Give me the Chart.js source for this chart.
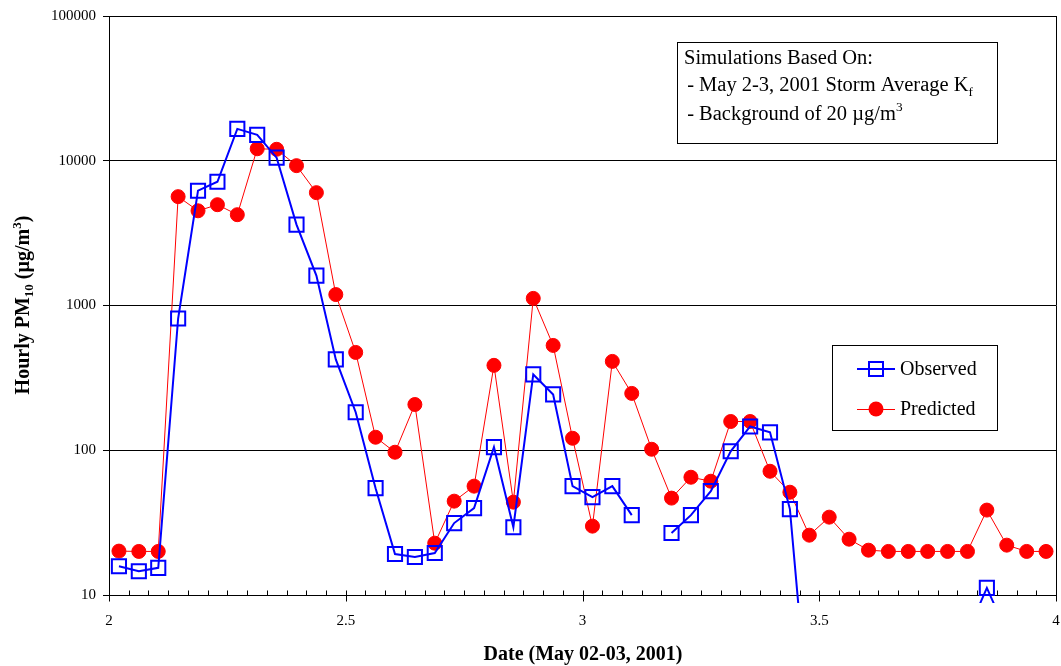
<!DOCTYPE html>
<html>
<head>
<meta charset="utf-8">
<script src="https://cdn.jsdelivr.net/npm/chart.js@4.4.0/dist/chart.umd.min.js"></script>
<style>
html, body { margin: 0; padding: 0; background: #fff; }
</style>
</head>
<body>
<canvas id="pmChart" width="1061" height="666"></canvas>
<script>
// hourly mid-points, May 2 (2.x) to May 3 (3.x)
const dates = [2.021, 2.063, 2.104, 2.146, 2.188, 2.229, 2.271, 2.313, 2.354, 2.396, 2.438, 2.479,
               2.521, 2.563, 2.604, 2.646, 2.688, 2.729, 2.771, 2.813, 2.854, 2.896, 2.938, 2.979,
               3.021, 3.063, 3.104, 3.146, 3.188, 3.229, 3.271, 3.313, 3.354, 3.396, 3.438, 3.479,
               3.521, 3.563, 3.604, 3.646, 3.688, 3.729, 3.771, 3.813, 3.854, 3.896, 3.938, 3.979];

const observed = [15.8, 14.6, 15.4, 813, 6210, 7160, 16600, 15100, 10500, 3620, 1610, 424,
                  183, 54.7, 19.2, 18.3, 19.5, 31.4, 39.8, 105, 29.4, 334, 243, 56.5,
                  47.4, 56.5, 35.6, null, 26.8, 35.6, 52.2, 98.4, 146, 133, 39.2, 1.2,
                  null, null, null, null, null, null, null, 5.5, 11.2, 5.5, null, null];

const predicted = [20.1, 20, 20, 5650, 4510, 4970, 4240, 12100, 12000, 9250, 6020, 1190,
                   474, 123, 96.9, 207, 22.8, 44.5, 56.5, 386, 43.8, 1120, 530, 121,
                   29.9, 411, 247, 101.6, 46.7, 65.1, 61.1, 158, 158, 71.6, 51.3, 25.9,
                   34.5, 24.3, 20.4, 20, 20, 20, 20, 20, 38.6, 22.1, 20, 20];

const yTicks = [10, 100, 1000, 10000, 100000];
const xLabels = [2, 2.5, 3, 3.5, 4];
const seriesNames = ['Observed', 'Predicted'];

const FONT = "'Liberation Serif', 'Times New Roman', serif";
const BLUE = '#0000ff';
const RED = '#ff0000';

function toPoints(vals) {
    return dates.map((d, i) => ({x: d, y: vals[i]}));
}

// draw text made of normal / sub / sup pieces
function richWidth(ctx, parts, size, bold) {
    let w = 0;
    parts.forEach(p => {
        const s = p[1] ? size * 0.65 : size;
        ctx.font = (bold ? 'bold ' : '') + s + 'px ' + FONT;
        w += ctx.measureText(p[0]).width;
    });
    return w;
}
function drawRich(ctx, parts, x, y, size, bold) {
    parts.forEach(p => {
        const s = p[1] ? size * 0.65 : size;
        ctx.font = (bold ? 'bold ' : '') + s + 'px ' + FONT;
        let dy = 0;
        if (p[1] === 'sub') dy = size * 0.22;
        if (p[1] === 'sup') dy = -size * 0.42;
        ctx.fillText(p[0], x, y + dy);
        x += ctx.measureText(p[0]).width;
    });
}

const noteLines = [
    [['Simulations Based On:']],
    [[' - May 2-3, 2001 Storm Average K'], ['f', 'sub']],
    [[' - Background of 20 \u00b5g/m'], ['3', 'sup']]
];
const yTitle = [['Hourly PM'], ['10', 'sub'], [' (\u00b5g/m'], ['3', 'sup'], [')']];
const xTitle = 'Date (May 02-03, 2001)';

const decorPlugin = {
    id: 'decor',
    afterDraw(chart) {
        const ctx = chart.ctx;
        const area = chart.chartArea;
        const xs = chart.scales.x;
        ctx.save();
        ctx.strokeStyle = '#000';
        ctx.fillStyle = '#000';
        ctx.lineWidth = 1;

        // right frame
        const rx = Math.round(area.right) + 0.5;
        ctx.beginPath();
        ctx.moveTo(rx, area.top);
        ctx.lineTo(rx, area.bottom);
        ctx.stroke();

        // hourly ticks on x axis
        const by = Math.round(area.bottom) + 0.5;
        ctx.beginPath();
        for (let h = 0; h <= 48; h++) {
            const px = Math.round(xs.getPixelForValue(2 + h / 24)) + 0.5;
            ctx.moveTo(px, by - 5);
            ctx.lineTo(px, h % 12 === 0 ? by + 6 : by);
        }
        ctx.stroke();

        // x tick labels
        ctx.font = '15px ' + FONT;
        ctx.textAlign = 'center';
        ctx.textBaseline = 'middle';
        xLabels.forEach(v => ctx.fillText(String(v), xs.getPixelForValue(v), area.bottom + 26));

        // axis titles
        ctx.textBaseline = 'alphabetic';
        ctx.font = 'bold 20px ' + FONT;
        ctx.fillText(xTitle, 583, 660);

        ctx.textAlign = 'left';
        const tw = richWidth(ctx, yTitle, 20, true);
        ctx.save();
        ctx.translate(29, 305);
        ctx.rotate(-Math.PI / 2);
        drawRich(ctx, yTitle, -tw / 2, 0, 20, true);
        ctx.restore();

        // note box
        ctx.strokeRect(677.5, 42.5, 320, 101);
        const noteY = [64, 91, 120];
        noteLines.forEach((ln, i) => drawRich(ctx, ln, i === 0 ? 684 : 682, noteY[i], 20.5, false));

        // legend box
        ctx.strokeRect(832.5, 345.5, 165, 85);
        const rows = [369, 409];
        ctx.font = '20px ' + FONT;
        ctx.textBaseline = 'middle';
        // observed
        ctx.strokeStyle = BLUE;
        ctx.lineWidth = 2;
        ctx.beginPath();
        ctx.moveTo(857, rows[0]);
        ctx.lineTo(895, rows[0]);
        ctx.stroke();
        ctx.strokeRect(869, rows[0] - 7, 14, 14);
        // predicted
        ctx.strokeStyle = RED;
        ctx.lineWidth = 1;
        ctx.beginPath();
        ctx.moveTo(857, rows[1] + 0.5);
        ctx.lineTo(895, rows[1] + 0.5);
        ctx.stroke();
        ctx.fillStyle = RED;
        ctx.beginPath();
        ctx.arc(876, rows[1], 7.5, 0, Math.PI * 2);
        ctx.fill();
        ctx.fillStyle = '#000';
        ctx.fillText(seriesNames[0], 900, rows[0] + 1);
        ctx.fillText(seriesNames[1], 900, rows[1] + 1);

        ctx.restore();
    }
};

const ctx = document.getElementById('pmChart').getContext('2d');

new Chart(ctx, {
    type: 'line',
    data: {
        datasets: [
            {
                label: seriesNames[0],
                data: toPoints(observed),
                borderColor: BLUE,
                borderWidth: 2,
                pointStyle: 'rect',
                pointRadius: 10,
                pointBorderWidth: 2,
                pointBorderColor: BLUE,
                pointBackgroundColor: 'rgba(0,0,0,0)',
                tension: 0,
                spanGaps: false,
                clip: {left: 10, top: 10, right: 10, bottom: 8}
            },
            {
                label: seriesNames[1],
                data: toPoints(predicted),
                borderColor: RED,
                borderWidth: 1,
                pointStyle: 'circle',
                pointRadius: 7,
                pointBorderWidth: 1,
                pointBorderColor: RED,
                pointBackgroundColor: RED,
                tension: 0,
                clip: {left: 10, top: 10, right: 10, bottom: 8}
            }
        ]
    },
    options: {
        responsive: false,
        animation: false,
        devicePixelRatio: 1,
        layout: {autoPadding: false, padding: {top: 15, right: 5, left: 0, bottom: 0}},
        plugins: {
            legend: {display: false},
            tooltip: {enabled: false}
        },
        scales: {
            x: {
                type: 'linear',
                min: 2,
                max: 4,
                afterFit: function(scale) { scale.height = 71; },
                grid: {display: false, drawTicks: false},
                border: {display: true, color: '#000', width: 1},
                ticks: {display: false}
            },
            y: {
                type: 'logarithmic',
                min: 10,
                max: 100000,
                afterBuildTicks: function(scale) {
                    scale.ticks = yTicks.map(v => ({value: v}));
                },
                afterFit: function(scale) { scale.width = 109; },
                grid: {color: '#000', lineWidth: 1, tickLength: 6, drawTicks: true},
                border: {display: true, color: '#000', width: 1},
                ticks: {
                    padding: 7,
                    color: '#000',
                    font: {family: FONT, size: 15},
                    callback: function(v) { return String(v); }
                }
            }
        }
    },
    plugins: [decorPlugin]
});
</script>
</body>
</html>
